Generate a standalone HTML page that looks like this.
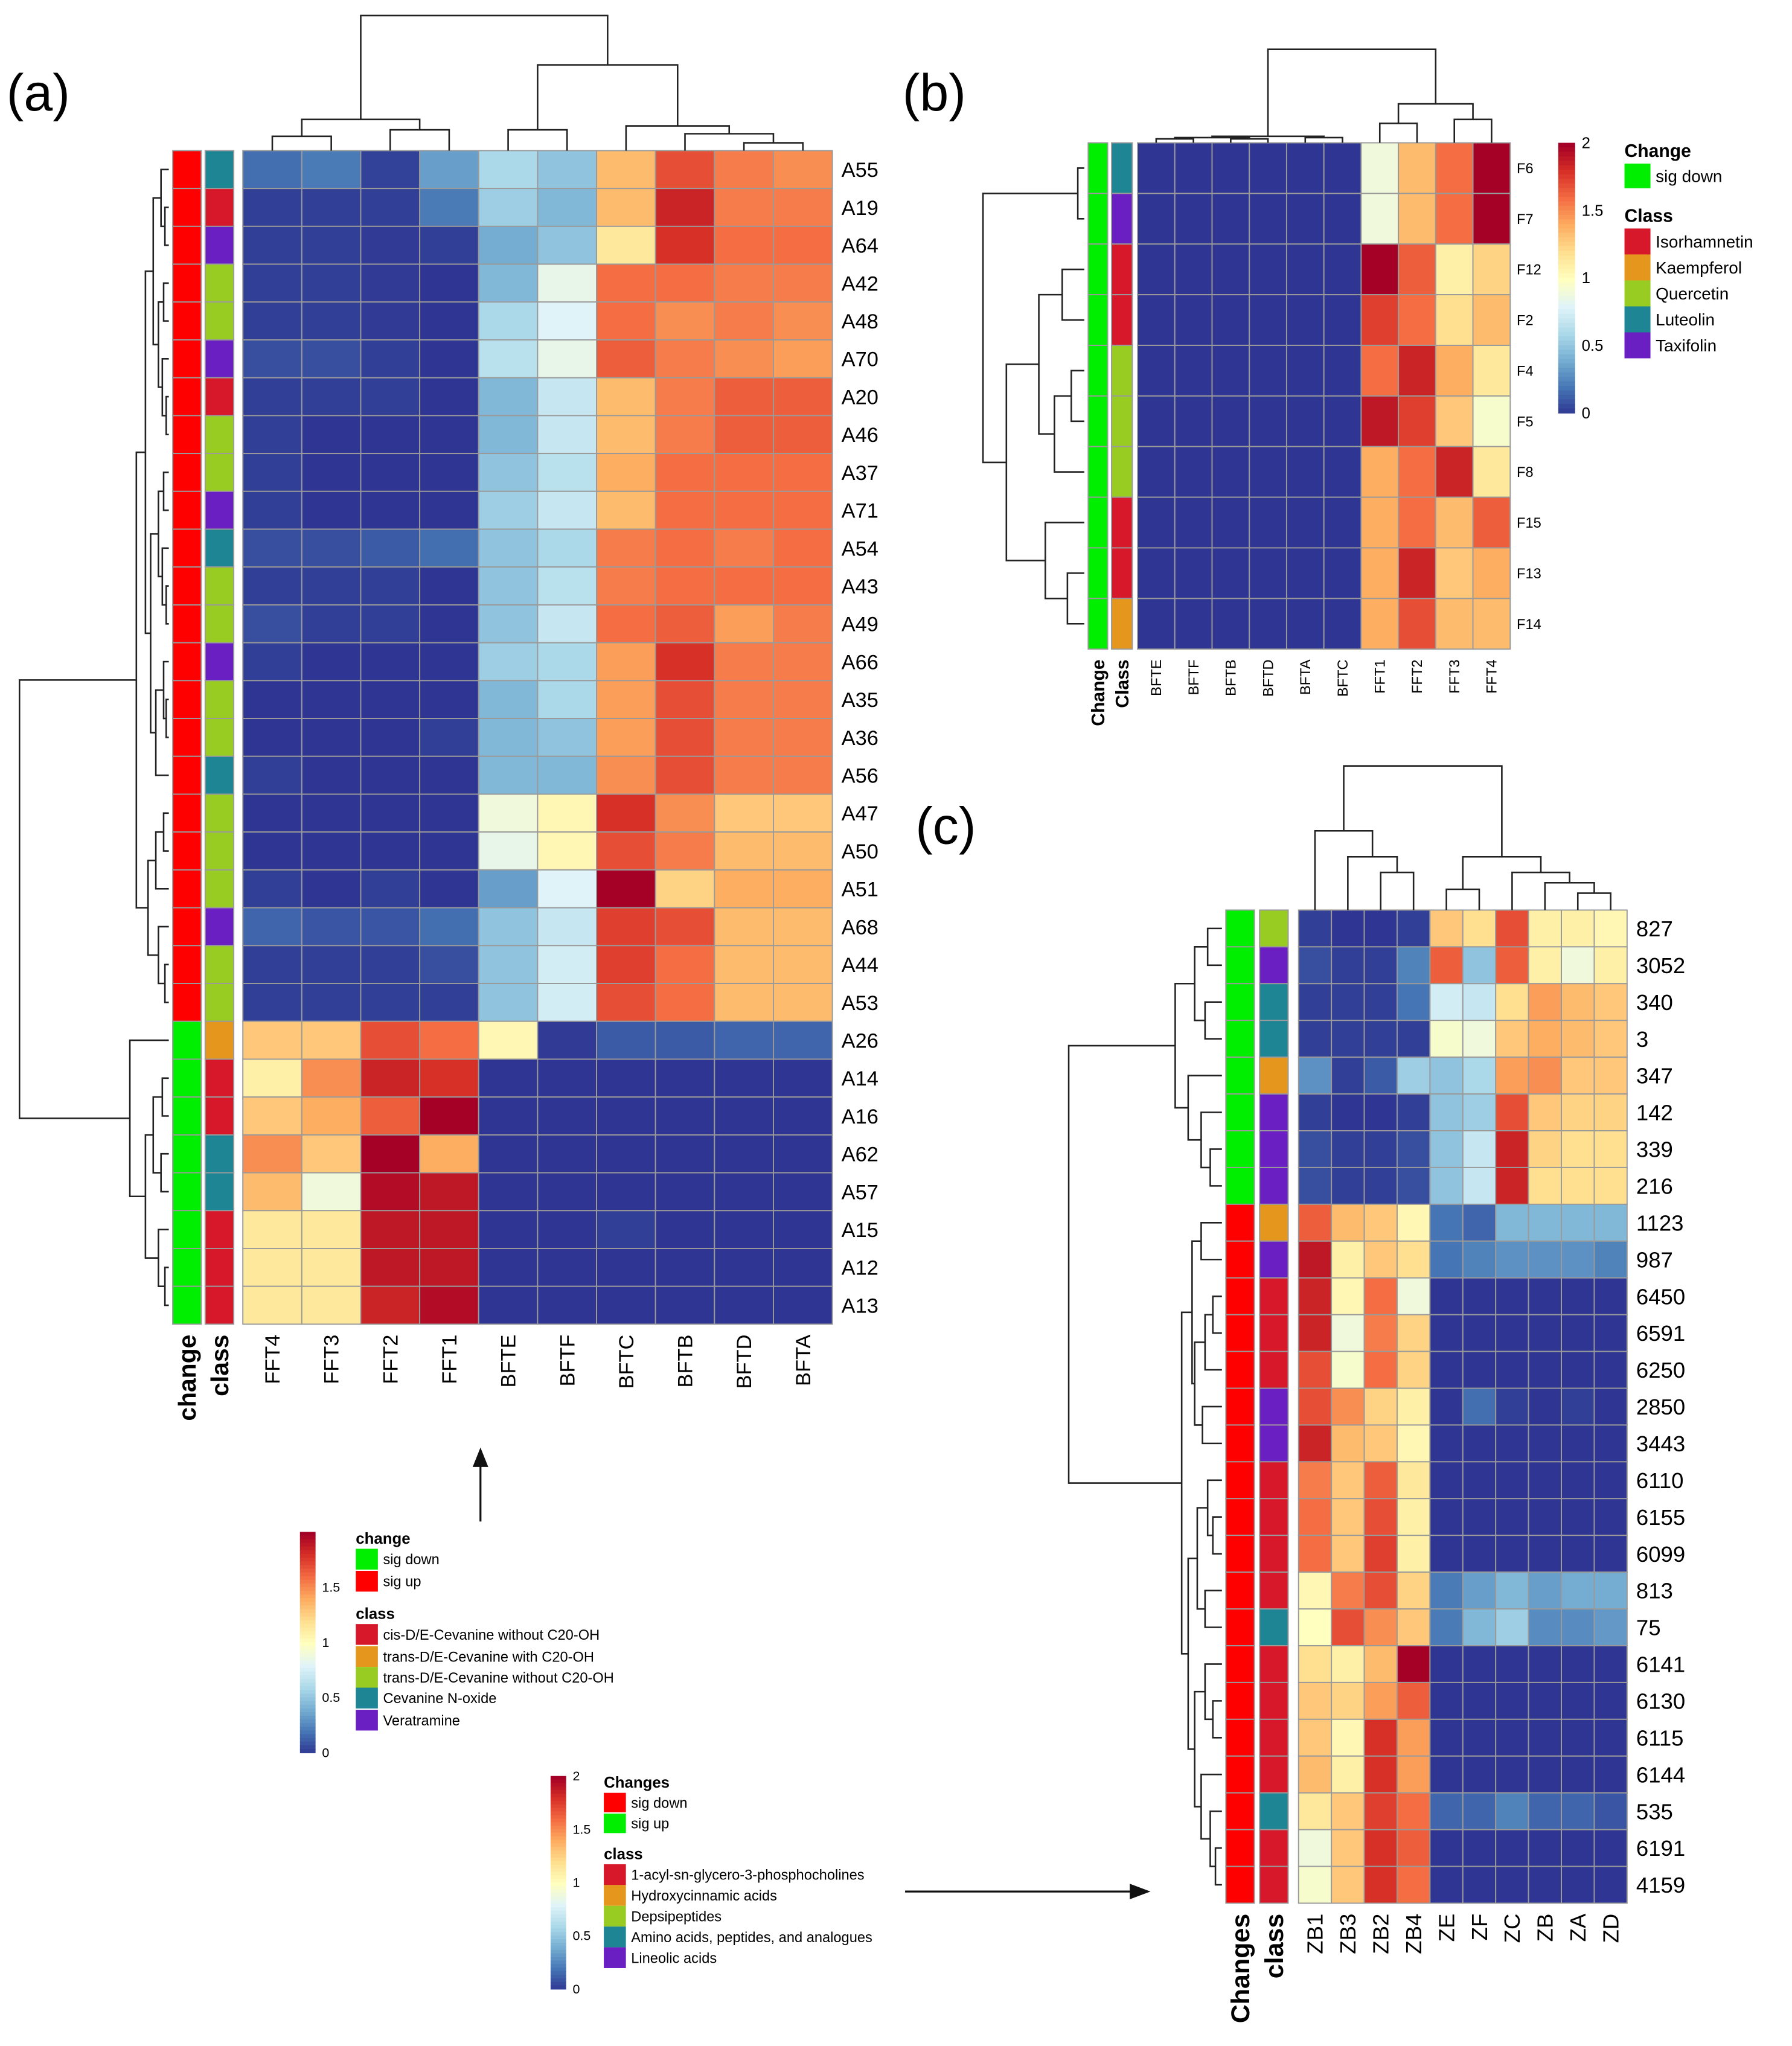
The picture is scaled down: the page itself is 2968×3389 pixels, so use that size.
<!DOCTYPE html>
<html><head><meta charset="utf-8"><style>
html,body{margin:0;padding:0;background:#fff}
svg{display:block}
text{font-family:"Liberation Sans",sans-serif}
</style></head><body>
<svg id="fig" xmlns="http://www.w3.org/2000/svg" width="2968" height="3389" viewBox="0 0 1380 1576" preserveAspectRatio="none">
<rect width="1380" height="1576" fill="#fff"/>
<text x="5" y="85" font-size="40">(a)</text>
<text x="695" y="85" font-size="40">(b)</text>
<text x="705" y="650" font-size="40">(c)</text>
<g id="gA"></g>
<g id="gB"></g>
<g id="gC"></g>
<g id="legs"></g>
</svg>
<script>
// ---------- Panel A data ----------
const aCols=["FFT4","FFT3","FFT2","FFT1","BFTE","BFTF","BFTC","BFTB","BFTD","BFTA"];
const aRows=["A55","A19","A64","A42","A48","A70","A20","A46","A37","A71","A54","A43","A49","A66","A35","A36","A56","A47","A50","A51","A68","A44","A53","A26","A14","A16","A62","A57","A15","A12","A13"];
const aVals=[
[0.18,0.22,0.04,0.35,0.6,0.5,1.35,1.7,1.55,1.5],
[0.03,0.03,0.03,0.22,0.55,0.45,1.35,1.85,1.55,1.55],
[0.03,0.03,0.02,0.03,0.4,0.5,1.15,1.8,1.6,1.6],
[0.03,0.03,0.02,0,0.45,0.85,1.6,1.6,1.55,1.55],
[0.03,0.03,0.02,0,0.6,0.8,1.6,1.5,1.55,1.5],
[0.08,0.08,0.03,0,0.65,0.85,1.65,1.55,1.5,1.45],
[0.03,0.03,0.03,0,0.45,0.7,1.35,1.55,1.65,1.65],
[0.03,0,0,0,0.45,0.7,1.35,1.55,1.65,1.65],
[0.03,0,0,0,0.5,0.65,1.4,1.6,1.6,1.6],
[0.03,0,0,0,0.55,0.7,1.35,1.6,1.6,1.6],
[0.08,0.08,0.12,0.18,0.5,0.6,1.55,1.6,1.55,1.6],
[0.03,0.03,0.03,0,0.5,0.65,1.55,1.6,1.6,1.6],
[0.08,0.03,0.03,0,0.5,0.7,1.6,1.65,1.45,1.55],
[0.03,0,0,0,0.55,0.6,1.45,1.8,1.55,1.55],
[0,0,0,0,0.45,0.6,1.45,1.7,1.55,1.55],
[0,0,0,0.03,0.45,0.5,1.45,1.7,1.55,1.55],
[0.03,0,0,0,0.45,0.45,1.5,1.7,1.55,1.55],
[0,0,0,0,0.9,1.05,1.8,1.5,1.3,1.3],
[0,0,0,0,0.85,1.05,1.7,1.55,1.35,1.35],
[0.03,0,0.03,0,0.35,0.8,2.0,1.25,1.4,1.4],
[0.15,0.1,0.1,0.18,0.5,0.7,1.75,1.7,1.35,1.35],
[0.03,0.03,0.03,0.08,0.5,0.75,1.75,1.6,1.35,1.35],
[0.03,0.03,0.03,0.03,0.5,0.75,1.7,1.6,1.35,1.35],
[1.3,1.3,1.7,1.6,1.05,0.02,0.12,0.12,0.15,0.15],
[1.1,1.5,1.85,1.8,0,0,0,0,0,0],
[1.3,1.4,1.65,2.0,0,0,0,0,0,0],
[1.5,1.3,2.0,1.4,0,0,0,0,0,0],
[1.35,0.9,1.95,1.9,0,0,0,0,0,0],
[1.15,1.15,1.9,1.9,0,0,0.03,0,0,0],
[1.15,1.15,1.9,1.9,0,0,0,0,0,0],
[1.15,1.15,1.85,1.95,0,0,0,0,0,0]];
const aChange=["u","u","u","u","u","u","u","u","u","u","u","u","u","u","u","u","u","u","u","u","u","u","u","d","d","d","d","d","d","d","d"];
const aClass=["t","r","p","g","g","p","r","g","g","p","t","g","g","p","g","g","t","g","g","g","p","g","g","o","r","r","t","t","r","r","r"];
// ---------- Panel B data ----------
const bCols=["BFTE","BFTF","BFTB","BFTD","BFTA","BFTC","FFT1","FFT2","FFT3","FFT4"];
const bRows=["F6","F7","F12","F2","F4","F5","F8","F15","F13","F14"];
const bVals=[
[0,0,0,0,0,0,0.9,1.35,1.6,2.0],
[0,0,0,0,0,0,0.9,1.35,1.6,2.0],
[0,0,0,0,0,0,2.0,1.65,1.1,1.25],
[0,0,0,0,0,0,1.75,1.6,1.2,1.35],
[0,0,0,0,0,0,1.6,1.85,1.4,1.15],
[0,0,0,0,0,0,1.9,1.75,1.3,0.95],
[0,0,0,0,0,0,1.4,1.6,1.85,1.15],
[0,0,0,0,0,0,1.4,1.6,1.35,1.65],
[0,0,0,0,0,0,1.4,1.85,1.3,1.4],
[0,0,0,0,0,0,1.4,1.7,1.35,1.35]];
const bChange=["d","d","d","d","d","d","d","d","d","d"];
const bClass=["t","p","r","r","g","g","g","r","r","o"];
// ---------- Panel C data ----------
const cCols=["ZB1","ZB3","ZB2","ZB4","ZE","ZF","ZC","ZB","ZA","ZD"];
const cRows=["827","3052","340","3","347","142","339","216","1123","987","6450","6591","6250","2850","3443","6110","6155","6099","813","75","6141","6130","6115","6144","535","6191","4159"];
const cVals=[
[0.03,0,0,0.03,1.3,1.2,1.7,1.1,1.1,1.05],
[0.08,0.03,0.03,0.25,1.65,0.5,1.65,1.1,0.9,1.1],
[0.03,0.03,0.03,0.2,0.75,0.7,1.2,1.45,1.35,1.3],
[0.03,0.03,0.03,0.03,0.95,0.9,1.3,1.4,1.35,1.3],
[0.3,0.03,0.12,0.55,0.5,0.6,1.45,1.5,1.3,1.3],
[0.03,0,0,0.03,0.5,0.55,1.7,1.3,1.25,1.25],
[0.08,0.03,0.03,0.08,0.5,0.7,1.85,1.25,1.2,1.2],
[0.08,0.03,0.03,0.08,0.5,0.7,1.85,1.2,1.2,1.2],
[1.65,1.35,1.3,1.05,0.2,0.15,0.45,0.45,0.45,0.45],
[1.9,1.1,1.3,1.2,0.2,0.25,0.3,0.3,0.3,0.25],
[1.85,1.05,1.6,0.9,0,0,0,0,0,0],
[1.85,0.9,1.55,1.25,0,0,0,0,0,0],
[1.7,0.95,1.6,1.25,0,0,0,0,0,0],
[1.7,1.5,1.25,1.1,0,0.18,0.03,0,0.03,0],
[1.85,1.35,1.3,1.05,0,0,0,0,0,0],
[1.55,1.3,1.65,1.15,0,0,0,0,0,0],
[1.6,1.3,1.7,1.1,0,0,0,0,0,0],
[1.6,1.3,1.75,1.1,0,0,0,0,0,0],
[1.05,1.55,1.7,1.25,0.22,0.35,0.45,0.35,0.4,0.4],
[1.0,1.7,1.5,1.3,0.22,0.45,0.55,0.28,0.28,0.33],
[1.2,1.1,1.35,2.0,0,0,0,0,0,0],
[1.3,1.25,1.45,1.65,0,0,0,0,0,0],
[1.3,1.05,1.8,1.45,0,0,0,0,0,0],
[1.35,1.1,1.8,1.45,0,0,0,0,0,0],
[1.15,1.3,1.75,1.6,0.15,0.15,0.25,0.15,0.15,0.1],
[0.9,1.3,1.8,1.65,0,0,0,0,0,0],
[0.95,1.3,1.8,1.6,0,0,0,0,0,0]];
const cChange=["d","d","d","d","d","d","d","d","u","u","u","u","u","u","u","u","u","u","u","u","u","u","u","u","u","u","u"];
const cClass=["g","p","t","t","o","p","p","p","o","p","r","r","r","p","p","r","r","r","r","t","r","r","r","r","t","r","r"];
// dendrogram trees [level, left, right]
const aRowTree=[15,[105,[112,[118,[124,0,[127,1,2]],[122,[126,3,4],[125,5,[128,6,7]]]],[116,[122,[126,8,9],[125,10,[128,11,12]]],[120,[126,13,[128,14,15]],16]]],[114,[120,[126,17,18],19],[122,20,[127,21,22]]]],[100,23,[112,[118,[125,24,25],[124,26,27]],[122,28,[127,29,30]]]]];
const aColTree=[12,[92,[105,0,1],[100,2,3]],[50,[100,4,5],[97,6,[103,7,[110,8,9]]]]];
const bRowTree=[757,[830,0,1],[775,[800,[818,2,3],[812,[825,4,5],6]],[805,7,[822,8,9]]]];
const bColTree=[38,[105,[106,[107,0,1],[107,2,3]],[106,4,5]],[80,[95,6,7],[92,8,9]]];
const cRowTree=[823,[905,[920,[930,0,1],[928,2,3]],[915,4,[925,5,[932,6,7]]]],[910,[918,[925,8,9],[920,[928,[934,10,11],12],[926,13,14]]],[915,[922,[930,15,[934,16,17]],[928,18,19]],[920,[928,20,[934,21,22]],[925,23,[932,24,[936,25,26]]]]]]];
const cColTree=[590,[640,0,[660,1,[672,2,3]]],[660,[685,4,5],[672,6,[680,7,[688,8,9]]]]];

const NS="http://www.w3.org/2000/svg";
const pal=['#2f3592','#4575b4','#74add1','#abd9e9','#e0f3f8','#ffffbf','#fee090','#fdae61','#f46d43','#d73027','#a50026'];
function hx(c){return [parseInt(c.slice(1,3),16),parseInt(c.slice(3,5),16),parseInt(c.slice(5,7),16)];}
function col(v){let t=Math.max(0,Math.min(2,v))/2*10;let i=Math.min(9,Math.floor(t));let f=t-i;let a=hx(pal[i]),b=hx(pal[i+1]);return 'rgb('+a.map((x,k)=>Math.round(x+(b[k]-x)*f)).join(',')+')';}
const chg={u:'#ff0000',d:'#00ee00'};
const cls={r:'#d7182a',o:'#e5961c',g:'#99cc22',t:'#1e8595',p:'#6a1fc2'};
function mk(p,tag,at){const e=document.createElementNS(NS,tag);for(const k in at)e.setAttribute(k,at[k]);p.appendChild(e);return e;}
function txt(p,x,y,s,fs,extra){const e=mk(p,'text',Object.assign({x:x,y:y,'font-size':fs},extra||{}));e.textContent=s;return e;}

function drawTree(g,tree,pos,edge,horizontal){
  let d='';
  function rec(n){
    if(typeof n==='number') return [pos(n),edge];
    const L=rec(n[1]),R=rec(n[2]),lv=n[0];
    if(horizontal){ d+=`M${L[0]},${L[1]}V${lv}H${R[0]}V${R[1]}`; }
    else { d+=`M${L[1]},${L[0]}H${lv}V${R[0]}H${R[1]}`; }
    return [(L[0]+R[0])/2,lv];
  }
  rec(tree);
  return mk(g,'path',{d:d,fill:'none',stroke:'#222','stroke-width':1.2});
}

function panel(g,o){
  const nr=o.rows.length,nc=o.cols.length;
  const cw=(o.x1-o.x0)/nc, rh=(o.y1-o.y0)/nr;
  const X=j=>o.x0+j*cw, Y=i=>o.y0+i*rh;
  for(let i=0;i<nr;i++){
    for(let j=0;j<nc;j++){
      const r=mk(g,'rect',{x:X(j),y:Y(i),width:cw,height:rh,fill:col(o.vals[i][j]),stroke:'#9a9a9a','stroke-width':0.9});
      
      
    }
    const a=mk(g,'rect',{x:o.chx[0],y:Y(i),width:o.chx[1]-o.chx[0],height:rh,fill:chg[o.change[i]],stroke:'#9a9a9a','stroke-width':0.9});
    
    
    const b=mk(g,'rect',{x:o.clx[0],y:Y(i),width:o.clx[1]-o.clx[0],height:rh,fill:cls[o.cls[i]],stroke:'#9a9a9a','stroke-width':0.9});
    
    
    const t=txt(g,o.x1+o.lgap,Y(i)+rh/2+o.rfs*0.36,o.rows[i],o.rfs);
    
    
  }
  for(let j=0;j<nc;j++){
    const cx=X(j)+cw/2+o.cfs*0.35;
    const t=txt(g,cx,o.y1+o.cgap,o.cols[j],o.cfs,{transform:`rotate(-90 ${cx} ${o.y1+o.cgap})`,'text-anchor':'end'});
    
    
  }
  [[o.chx,o.chName],[o.clx,o.clName]].forEach(([xx,nm],k)=>{
    const cx=(xx[0]+xx[1])/2+o.afs*0.35;
    const t=txt(g,cx,o.y1+o.cgap,nm,o.afs,{transform:`rotate(-90 ${cx} ${o.y1+o.cgap})`,'text-anchor':'end','font-weight':'bold'});
    
    
  });
  const rt=drawTree(g,o.rowTree,i=>Y(i)+rh/2,o.chx[0]-3,false);
  
  
  const ct=drawTree(g,o.colTree,j=>X(j)+cw/2,o.y0,true);
  
  
}

panel(document.getElementById('gA'),{rows:aRows,cols:aCols,vals:aVals,change:aChange,cls:aClass,
  x0:187,x1:641,y0:116,y1:1020,chx:[133,155],clx:[158,180],lgap:7,rfs:16,cfs:16,cgap:8,afs:19,
  chName:'change',clName:'class',rowTree:aRowTree,colTree:aColTree});
panel(document.getElementById('gB'),{rows:bRows,cols:bCols,vals:bVals,change:bChange,cls:bClass,
  x0:876,x1:1163,y0:110,y1:500,chx:[838,853],clx:[856,872],lgap:5,rfs:11,cfs:11,cgap:8,afs:14,
  chName:'Change',clName:'Class',rowTree:bRowTree,colTree:bColTree});
panel(document.getElementById('gC'),{rows:cRows,cols:cCols,vals:cVals,change:cChange,cls:cClass,
  x0:1000,x1:1253,y0:701,y1:1466,chx:[944,966],clx:[970,992],lgap:7,rfs:17,cfs:17,cgap:8,afs:20,
  chName:'Changes',clName:'class',rowTree:cRowTree,colTree:cColTree});

// ---------- legends ----------
const L=document.getElementById('legs');
function cbar(x,y0,y1,w,ticks,fs,name){
  const g=mk(L,'g',{});
  
  
  const n=60;
  for(let k=0;k<n;k++){mk(g,'rect',{x:x,y:y0+(y1-y0)*k/n,width:w,height:(y1-y0)/n+0.5,fill:col(2-2*k/n)});}
  ticks.forEach(t=>{const yy=y1-(y1-y0)*t/2;txt(g,x+w+5,yy+fs*0.35,String(t),fs);});
}
function legend(x,entries,fs,box,name){
  const g=mk(L,'g',{});
  
  
  entries.forEach(e=>{
    if(e.title){txt(g,x,e.y,e.title,fs+1,{'font-weight':'bold'});}
    else{mk(g,'rect',{x:x,y:e.y,width:box,height:e.h,fill:e.c});txt(g,x+box+4,e.y+e.h/2+fs*0.36,e.t,fs);}
  });
}
cbar(1200,110,318,13,[2,1.5,1,0.5,0],12,'colorbar-b');
legend(1251,[{title:'Change',y:121},{y:126,h:19,c:chg.d,t:'sig down'},{title:'Class',y:171},
 {y:176,h:20,c:cls.r,t:'Isorhamnetin'},{y:196,h:20,c:cls.o,t:'Kaempferol'},{y:216,h:20,c:cls.g,t:'Quercetin'},{y:236,h:20,c:cls.t,t:'Luteolin'},{y:256,h:20,c:cls.p,t:'Taxifolin'}],13,20,'legend-b');
cbar(231,1180,1350,12,[1.5,1,0.5,0],10,'colorbar-a');
legend(274,[{title:'change',y:1189},{y:1193,h:16,c:chg.d,t:'sig down'},{y:1210,h:16,c:chg.u,t:'sig up'},{title:'class',y:1247},
 {y:1251,h:16,c:cls.r,t:'cis-D/E-Cevanine without C20-OH'},{y:1268,h:16,c:cls.o,t:'trans-D/E-Cevanine with C20-OH'},{y:1284,h:16,c:cls.g,t:'trans-D/E-Cevanine without C20-OH'},{y:1300,h:16,c:cls.t,t:'Cevanine N-oxide'},{y:1317,h:16,c:cls.p,t:'Veratramine'}],11,17,'legend-a');
cbar(424,1368,1532,12,[2,1.5,1,0.5,0],10,'colorbar-c');
legend(465,[{title:'Changes',y:1377},{y:1381,h:15,c:chg.u,t:'sig down'},{y:1397,h:15,c:chg.d,t:'sig up'},{title:'class',y:1432},
 {y:1436,h:16,c:cls.r,t:'1-acyl-sn-glycero-3-phosphocholines'},{y:1452,h:16,c:cls.o,t:'Hydroxycinnamic acids'},{y:1468,h:16,c:cls.g,t:'Depsipeptides'},{y:1484,h:16,c:cls.t,t:'Amino acids, peptides, and analogues'},{y:1500,h:16,c:cls.p,t:'Lineolic acids'}],11,17,'legend-c');
const a1=mk(L,'path',{d:'M370,1172V1128',stroke:'#111','stroke-width':1.5,fill:'none'});


mk(L,'path',{d:'M364,1130L370,1115L376,1130Z',fill:'#111'});
const a2=mk(L,'path',{d:'M697,1457H872',stroke:'#111','stroke-width':1.5,fill:'none'});


mk(L,'path',{d:'M870,1451L886,1457L870,1463Z',fill:'#111'});
</script>
</body></html>
